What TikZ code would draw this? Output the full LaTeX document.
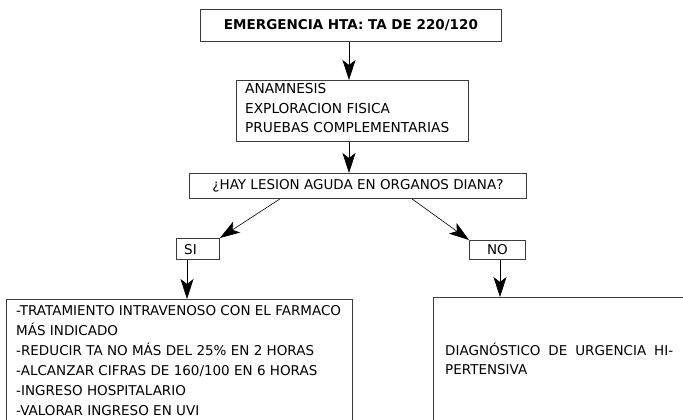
\documentclass[tikz,border=0pt]{standalone}
\usepackage{fontspec}
\setmainfont{DejaVu Sans}
\usepackage{xcolor}
\definecolor{BoxLine}{RGB}{60,60,60}
\usepackage{tikz}
\usetikzlibrary{arrows.meta, positioning, calc}
\tikzset{
  % Plain flow box
  fbox/.style={
    rectangle, draw=BoxLine, line width=0.9pt,
    fill=white, inner sep=0pt, anchor=north west,
    font=\fontsize{13.5}{15}\selectfont
  },
  % Box text, placed by its top left corner
  ftext/.style={
    align=left, inner sep=0pt, anchor=north west,
    font=\fontsize{13.5}{20}\selectfont
  },
  % Arrows
  arr/.style={-{Stealth[length=20pt,width=13pt,inset=5pt]}, line width=0.6pt, black},
}

\begin{document}
\begin{tikzpicture}[x=1pt, y=-1pt]

  \clip (0,0) rectangle (683,420);
  \fill[white] (0,0) rectangle (683,420);

  %% ---- TOP ----
  \node[fbox, minimum width=301pt, minimum height=32pt,
        font=\fontsize{13.5}{15}\selectfont\bfseries] (emerg) at (200,9)
    {EMERGENCIA HTA: TA DE 220/120};

  \node[fbox, minimum width=232pt, minimum height=61pt] (anam) at (236,80) {};
  \node[ftext, font=\fontsize{13.7}{19.5}\selectfont] (anamtxt) at (245,83.2)
    {ANAMNESIS\\EXPLORACION FISICA\\PRUEBAS COMPLEMENTARIAS};

  \node[fbox, minimum width=337pt, minimum height=25pt] (lesion) at (189,173)
    {¿HAY LESION AGUDA EN ORGANOS DIANA?};

  %% ---- SI / NO ----
  \node[fbox, minimum width=43pt, minimum height=21pt] (si) at (176,238) {};
  \node[ftext, anchor=base west] (sitxt) at (184,254) {SI};
  \node[fbox, minimum width=56pt, minimum height=19pt] (no) at (469,240) {NO};

  %% ---- RESULTS ----
  \node[fbox, minimum width=346pt, minimum height=140pt] (trat) at (6,299) {};
  \node[ftext] (trattxt) at (16,305.2)
    {-TRATAMIENTO INTRAVENOSO CON EL FARMACO\\
     MÁS INDICADO\\
     -REDUCIR TA NO MÁS DEL 25\% EN 2 HORAS\\
     -ALCANZAR CIFRAS DE 160/100 EN 6 HORAS\\
     -INGRESO HOSPITALARIO\\
     -VALORAR INGRESO EN UVI};

  \node[fbox, minimum width=270pt, minimum height=140pt] (diag) at (433,297) {};
  \node[ftext, text width=228pt, align=justify,
        font=\fontsize{13.5}{19}\selectfont] (diagtxt) at (445,342.5)
    {DIAGNÓSTICO DE URGENCIA HI-\linebreak PERTENSIVA};

  %% Arrows
  \draw[arr] (emerg.south -| 349,0) -- (anam.north -| 349,0);
  \draw[arr] (anam.south -| 349,0) -- (lesion.north -| 349,0);
  \draw[arr] ($(lesion.south west)+(91,0)$) -- (si.north east);
  \draw[arr] ($(lesion.south west)+(223,0)$) -- (no.north west);
  \draw[arr] (si.south -| 187,0) -- (trat.north -| 187,0);
  \draw[arr] (no.south -| 500,0) -- (diag.north -| 500,0);

\end{tikzpicture}
\end{document}
